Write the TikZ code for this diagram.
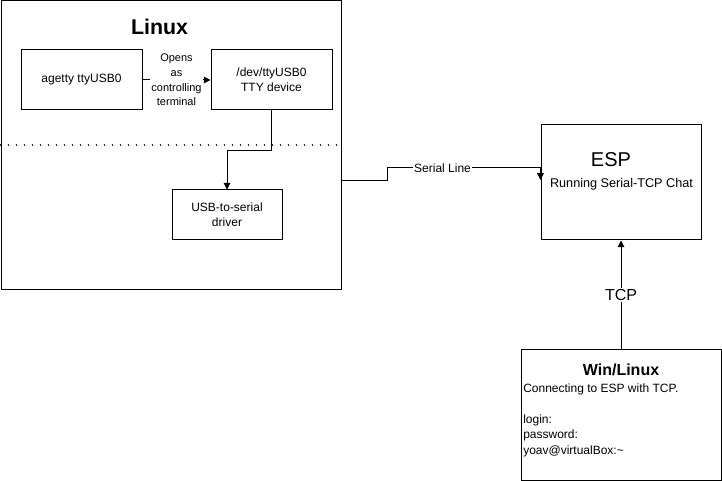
\documentclass[tikz,border=0pt]{standalone}
\usepackage{fontspec}
\setmainfont{Liberation Sans}
\usetikzlibrary{arrows.meta,positioning}

\begin{document}
\begin{tikzpicture}[
	x=0.75pt, y=-0.75pt,
	block/.style={
		rectangle,
		draw=black, line width=0.75pt,
		align=center, font=\fontsize{9}{11}\selectfont,
		inner sep=0pt
	},
	line/.style={draw, line width=0.75pt, -{Triangle[length=5pt,width=5pt]}},
	lbl/.style={fill=white, inner sep=1pt, align=center},
	]
	\useasboundingbox (0,0) rectangle (722,481);

	% left machine
	\node [block, minimum width=255pt, minimum height=216.75pt] (linux) at (171,145.5) {};
	\node [font=\fontsize{16}{19}\selectfont\bfseries] (linuxtitle) at (159.5,27) {Linux};
	\node [block, minimum width=90.75pt, minimum height=45pt] (agetty) at (81.5,80) {agetty ttyUSB0};
	\node [block, minimum width=90.75pt, minimum height=45pt] (tty) at (271.5,80) {/dev/ttyUSB0\\TTY device};
	\node [block, minimum width=82.5pt, minimum height=37.5pt] (drv) at (227,215) {USB-to-serial\\driver};
	\draw [line width=1.3pt, line cap=round, dash pattern=on 0pt off 6pt]
		(linux.west |- 0,145) -- (linux.east |- 0,145);

	% right side
	\node [block, minimum width=120pt, minimum height=86.25pt] (esp) at (621,182.5) {};
	\node [font=\fontsize{15}{18}\selectfont] (esptitle) at (611,160) {ESP};
	\node [font=\fontsize{9.5}{11}\selectfont] (espsub) at (621.5,184) {Running Serial-TCP Chat};
	\node [block, minimum width=150pt, minimum height=97.5pt] (win) at (621,415) {};
	\node [font=\fontsize{12}{14}\selectfont\bfseries] (wintitle) at (621,370) {Win/Linux};
	\node [font=\fontsize{9}{11.5}\selectfont, align=left, anchor=north west, inner sep=0pt]
		(wintext) at (523,384) {Connecting to ESP with TCP.\\[11.5pt]login:\\password:\\yoav@virtualBox:\textasciitilde};

	\path [line] (agetty) -- node [lbl, font=\fontsize{8.25}{11}\selectfont] (opens) {Opens\\as\\controlling\\terminal} (tty);
	\path [line] (tty.south) -- ++(0,40.5) -| (drv.north);
	\path [line] ([yshift=-25.9pt]linux.east) -- ++(46,0) |- ([yshift=10.9pt]esp.west)
		node [lbl, font=\fontsize{9}{11}\selectfont, pos=0.68] (serial) {Serial Line}
		-- ([yshift=2pt]esp.west);
	\path [line] (win.north) -- node [lbl, font=\fontsize{12}{14}\selectfont] (tcp) {TCP} (esp.south);
\end{tikzpicture}
\end{document}
